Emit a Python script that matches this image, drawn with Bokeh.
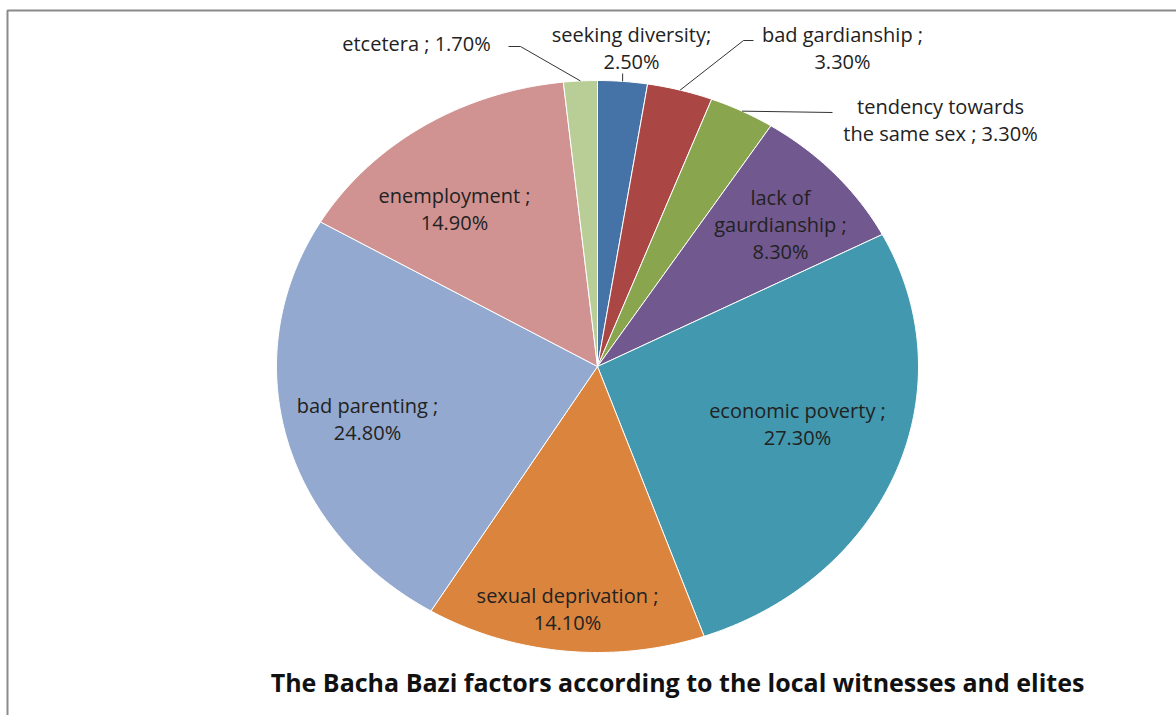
import numpy as np
from bokeh.plotting import figure
from bokeh.models import Range1d
from bokeh.core.properties import value
from bokeh.embed import file_html
from bokeh.resources import INLINE

# ---- data ----
categories = ["seeking diversity", "bad gardianship", "tendency towards the same sex",
              "lack of gaurdianship", "economic poverty", "sexual deprivation",
              "bad parenting", "enemployment", "etcetera"]
values = [2.5, 3.3, 3.3, 8.3, 27.3, 14.1, 24.8, 14.9, 1.7]
colors = ["#4572A7", "#AA4643", "#89A54E", "#71588F", "#4198AF",
          "#DB843D", "#93A9CF", "#D19392", "#B9CD96"]
label_texts = ["seeking diversity;\n2.50%", "bad gardianship ;\n3.30%",
               "tendency towards\nthe same sex ; 3.30%", "lack of\ngaurdianship ;\n8.30%",
               "economic poverty ;\n27.30%", "sexual deprivation ;\n14.10%",
               "bad parenting ;\n24.80%", "enemployment ;\n14.90%", "etcetera ; 1.70%"]
title = "The Bacha Bazi factors according to the local witnesses and elites"

# ---- layout ----
W, H = 1176, 715
cx, cy, rx, ry = 597, 366, 321, 286
FONT = "Open Sans"
label_pos = [(631, 47), (842, 47), (940, 119), (780, 224), (797, 423),
             (567, 608), (367, 418), (454, 208), (416, 43)]

p = figure(width=W, height=H, output_backend="svg", toolbar_location=None,
           x_range=Range1d(0, W), y_range=Range1d(H, 0), min_border=0)
p.axis.visible = False
p.grid.visible = False
p.outline_line_color = None
p.background_fill_color = "white"
p.border_fill_color = "white"

vals = np.array(values, dtype=float)
frac = vals / vals.sum()
ends = np.cumsum(frac) * 2 * np.pi
starts = ends - frac * 2 * np.pi
mids = (starts + ends) / 2

def pt(t, r=1.0):
    return cx + rx * r * np.sin(t), cy - ry * r * np.cos(t)

xs, ys = [], []
for s, e in zip(starts, ends):
    n = max(4, int((e - s) / (2 * np.pi) * 400))
    t = np.linspace(s, e, n)
    px, py = pt(t)
    xs.append([cx] + list(px))
    ys.append([cy] + list(py))

p.patches(xs=xs, ys=ys, fill_color=colors, line_color="white", line_width=1)

# frame
p.quad(left=7, right=W + 20, top=10, bottom=H + 20, fill_color=None,
       line_color="#8a8a8a", line_width=2)

# labels
p.text(x=[q[0] for q in label_pos], y=[q[1] for q in label_pos], text=label_texts,
       text_align="center", text_baseline="middle",
       text_font=value(FONT), text_font_size="20px", text_color="#222222",
       text_line_height=1.0)

# leader lines
leaders = {8: [(520, 46), (508, 46)], 0: [(pt(mids[0])[0], 73)],
           1: [(743, 40), (753, 40)], 2: [(832, 112)]}
for i, pts in leaders.items():
    x0, y0 = pt(mids[i])
    lx = [x0] + [q[0] for q in pts]
    ly = [y0] + [q[1] for q in pts]
    p.line(lx, ly, line_color="#333333", line_width=1)

p.text(x=[677], y=[681], text=[title], text_align="center", text_baseline="middle",
       text_font=value(FONT), text_font_size="25px", text_font_style="bold",
       text_color="#111111")

open("out.html", "w").write(file_html(p, INLINE))
